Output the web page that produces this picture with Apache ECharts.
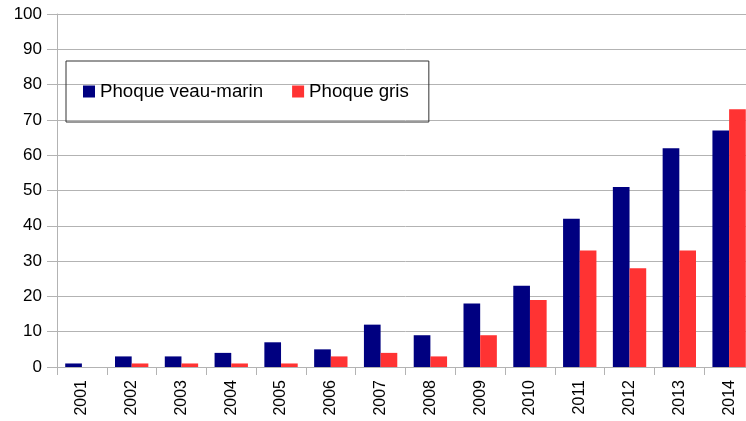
<!DOCTYPE html>
<html>
<head>
<meta charset="utf-8">
<script src="https://cdn.jsdelivr.net/npm/echarts@6/dist/echarts.min.js"></script>
<style>
  html, body { margin: 0; padding: 0; background: #fff; overflow: hidden; }
  /* The plot runs slightly past the right edge of the window */
  #chart { width: 754px; height: 421px; }
</style>
</head>
<body>
<div id="chart"></div>
<script>
// Seal counts per year
const years = ['2001','2002','2003','2004','2005','2006','2007','2008','2009','2010','2011','2012','2013','2014'];
const phoqueVeauMarin = [1, 3, 3, 4, 7, 5, 12, 9, 18, 23, 42, 51, 62, 67];
const phoqueGris = [0, 1, 1, 1, 1, 3, 4, 3, 9, 19, 33, 28, 33, 73];
const seriesNames = ['Phoque veau-marin', 'Phoque gris'];
const seriesColors = ['#000080', '#ff3333'];

const chart = echarts.init(document.getElementById('chart'), null, { renderer: 'canvas' });
const font = 'Liberation Sans, Arial, sans-serif';

chart.setOption({
  animation: false,
  backgroundColor: '#ffffff',
  textStyle: { fontFamily: font },
  legend: {
    data: seriesNames,
    left: 66,
    top: 61,
    orient: 'horizontal',
    itemWidth: 12,
    itemHeight: 12,
    itemGap: 29,
    icon: 'rect',
    borderColor: '#333333',
    borderWidth: 1,
    borderRadius: 0,
    padding: [21, 20, 21, 17],
    textStyle: { fontFamily: font, fontSize: 18.7, color: '#000000' }
  },
  grid: { left: 57, right: 0, top: 14, bottom: 54, containLabel: false },
  xAxis: {
    type: 'category',
    data: years,
    axisLine: { lineStyle: { color: '#b3b3b3', width: 1 } },
    axisTick: { show: true, length: 8, lineStyle: { color: '#b3b3b3' } },
    axisLabel: { rotate: 90, fontSize: 16, color: '#000000', fontFamily: font, margin: 13 }
  },
  yAxis: {
    type: 'value',
    min: 0,
    max: 100,
    interval: 10,
    axisLine: { show: true, lineStyle: { color: '#b3b3b3', width: 1 } },
    axisTick: { show: true, length: 10, lineStyle: { color: '#b3b3b3' } },
    splitLine: { lineStyle: { color: '#b3b3b3', width: 1 } },
    axisLabel: { fontSize: 17, color: '#000000', fontFamily: font, margin: 15 }
  },
  series: [
    {
      name: seriesNames[0],
      type: 'bar',
      data: phoqueVeauMarin,
      itemStyle: { color: seriesColors[0] },
      barGap: '0%',
      barCategoryGap: '33%'
    },
    {
      name: seriesNames[1],
      type: 'bar',
      data: phoqueGris,
      itemStyle: { color: seriesColors[1] }
    }
  ]
});
</script>
</body>
</html>
